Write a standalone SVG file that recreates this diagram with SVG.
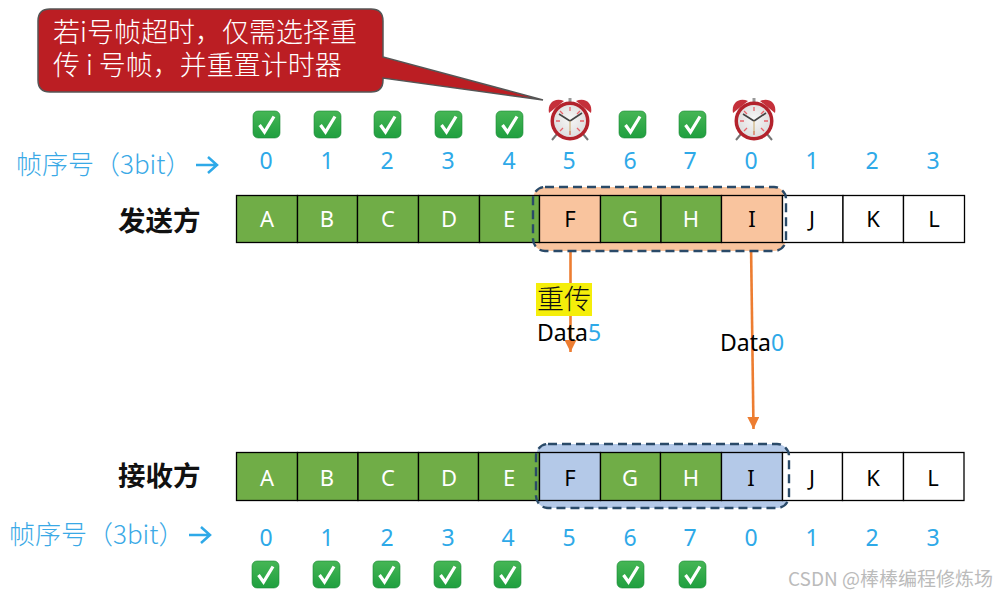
<svg xmlns="http://www.w3.org/2000/svg" width="995" height="597" viewBox="0 0 995 597">
<style>
text{font-family:"Noto Sans","Noto Sans CJK SC",sans-serif}
.cjk{font-family:"Noto Sans CJK SC",sans-serif}
.cell{stroke:#000;stroke-width:1.3}
.g{fill:#70ad47}.w{fill:#fff}.o{fill:#f9c49e}.b{fill:#b4c9e8}
.lt{font-size:22px;text-anchor:middle}
.lw{fill:#fff}.lk{fill:#000}
.n{font-size:23px;fill:#2ea9e8;text-anchor:middle}
.seq{font-size:26px;fill:#3aa9e6;font-weight:300}
.who{font-size:27.5px;font-weight:700;fill:#111}
.win{stroke:#2a4a68;stroke-width:2.4;stroke-dasharray:9 5}
.conn{stroke:#ed7d31;stroke-width:2.6;fill:none}
.data{font-size:23px;fill:#000}
.blue{fill:#2ea9e8}
.call{font-size:27px;fill:#fff;font-weight:300}
</style>
<defs>
<marker id="ah" markerUnits="userSpaceOnUse" markerWidth="12" markerHeight="12" refX="10" refY="5" orient="auto" viewBox="0 0 10 10"><path d="M0,0L10,5L0,10Z" fill="#ed7d31"/></marker>
<linearGradient id="gc" x1="0" y1="0" x2="0" y2="1"><stop offset="0" stop-color="#46b655"/><stop offset="1" stop-color="#1f9f3f"/></linearGradient>
<radialGradient id="face" cx=".5" cy=".45" r=".6"><stop offset="0" stop-color="#f6f6f6"/><stop offset="1" stop-color="#dcdcdc"/></radialGradient>
<g id="chk"><rect x="0" y="0" width="27" height="27" rx="5" fill="url(#gc)" stroke="#1c8a38" stroke-width=".6"/><path d="M6.500,14 L11.500,21 L21,5.500" fill="none" stroke="#fff" stroke-width="3.200"/></g>
<g id="clk">
<path d="M8,36 L3,42 M34,36 L39,42" stroke="#777" stroke-width="2"/>
<path d="M0,15 C-2,5 6,-1 15,3 Z" fill="#c5303a"/><path d="M42,15 C44,5 36,-1 27,3 Z" fill="#c5303a"/>
<rect x="19.500" y="0" width="3" height="5" fill="#999"/>
<circle cx="21" cy="23" r="19.500" fill="#b3222c"/><circle cx="21" cy="23" r="16" fill="url(#face)"/>
<path d="M21,9V13M21,33V37M7,23H11M31,23H35M11,13L14,16M31,13L28,16M11,33L14,30M31,33L28,30" stroke="#e8636a" stroke-width="1.300"/>
<path d="M21,23L10,16M21,23L33,15" stroke="#444" stroke-width="1.600"/><path d="M21,23V36" stroke="#c9a868" stroke-width="1"/>
</g>
</defs>

<g id="connectors">
<path class="conn" d="M570.500,243V352" marker-end="url(#ah)"/>
<path class="conn" d="M751,243L753.500,429" marker-end="url(#ah)"/>
</g>

<g id="callout">
<path d="M50,9H371Q383,9 383,21V57L543,100L383,78V80Q383,92 371,92H50Q38,92 38,80V21Q38,9 50,9Z" fill="#bb1e23" stroke="#555" stroke-width="1.500"/>
<text class="call cjk"><tspan x="53" y="42">若i号帧超时，仅需选择重</tspan><tspan x="53" y="75">传 i 号帧，并重置计时器</tspan></text>
</g>

<g id="checks-top">
<use href="#chk" x="253" y="111"/><use href="#chk" x="314" y="111"/><use href="#chk" x="374" y="111"/><use href="#chk" x="435" y="111"/><use href="#chk" x="496" y="111"/><use href="#chk" x="619" y="111"/><use href="#chk" x="679" y="111"/>
</g>
<g id="clock-5"><use href="#clk" x="549" y="98"/></g>
<g id="clock-0"><use href="#clk" x="733" y="98"/></g>

<g id="seq-top">
<text class="seq cjk" x="16" y="174">帧序号（3bit）</text>
<path d="M196,165H216M208,157L217,165L208,173" fill="none" stroke="#2ea9e8" stroke-width="2.500"/>
<text class="n" x="266" y="169">0</text><text class="n" x="327" y="169">1</text><text class="n" x="387" y="169">2</text><text class="n" x="448" y="169">3</text><text class="n" x="509" y="169">4</text><text class="n" x="569" y="169">5</text><text class="n" x="630" y="169">6</text><text class="n" x="690" y="169">7</text><text class="n" x="751" y="169">0</text><text class="n" x="812" y="169">1</text><text class="n" x="872" y="169">2</text><text class="n" x="933" y="169">3</text>
</g>

<g id="sender">
<text class="who cjk" x="118" y="231">发送方</text>
<rect x="533" y="187" width="253" height="64" rx="12" fill="#f9c49e"/>
<g class="cell">
<rect class="g" x="236.500" y="195.500" width="61" height="47"/><rect class="g" x="297.500" y="195.500" width="60" height="47"/><rect class="g" x="357.500" y="195.500" width="61" height="47"/><rect class="g" x="418.500" y="195.500" width="61" height="47"/><rect class="g" x="479.500" y="195.500" width="60" height="47"/>
<rect class="o" x="539.500" y="195.500" width="61" height="47"/><rect class="g" x="600.500" y="195.500" width="60.500" height="47"/><rect class="g" x="661" y="195.500" width="60.500" height="47"/><rect class="o" x="721.500" y="195.500" width="61" height="47"/>
<rect class="w" x="782.500" y="195.500" width="60.500" height="47"/><rect class="w" x="843" y="195.500" width="60.500" height="47"/><rect class="w" x="903.500" y="195.500" width="61" height="47"/>
</g>
<rect class="win" x="533" y="187" width="253" height="64" rx="12" fill="none"/>
<g class="lt">
<text class="lw" x="267" y="227">A</text><text class="lw" x="327" y="227">B</text><text class="lw" x="388" y="227">C</text><text class="lw" x="449" y="227">D</text><text class="lw" x="509" y="227">E</text><text class="lk" x="570" y="227">F</text><text class="lw" x="630" y="227">G</text><text class="lw" x="691" y="227">H</text><text class="lk" x="752" y="227">I</text><text class="lk" x="812" y="227">J</text><text class="lk" x="873" y="227">K</text><text class="lk" x="934" y="227">L</text>
</g>
</g>

<g id="receiver">
<text class="who cjk" x="118" y="486">接收方</text>
<rect x="536" y="444" width="253" height="64" rx="12" fill="#b4c9e8"/>
<g class="cell">
<rect class="g" x="236.500" y="452.500" width="61" height="48"/><rect class="g" x="297.500" y="452.500" width="60.500" height="48"/><rect class="g" x="358" y="452.500" width="60.500" height="48"/><rect class="g" x="418.500" y="452.500" width="60" height="48"/><rect class="g" x="478.500" y="452.500" width="61" height="48"/>
<rect class="b" x="539.500" y="452.500" width="61" height="48"/><rect class="g" x="600.500" y="452.500" width="60" height="48"/><rect class="g" x="660.500" y="452.500" width="61" height="48"/><rect class="b" x="721.500" y="452.500" width="61" height="48"/>
<rect class="w" x="782.500" y="452.500" width="60" height="48"/><rect class="w" x="842.500" y="452.500" width="61" height="48"/><rect class="w" x="903.500" y="452.500" width="60.500" height="48"/>
</g>
<rect class="win" x="536" y="444" width="253" height="64" rx="12" fill="none"/>
<g class="lt">
<text class="lw" x="267" y="486">A</text><text class="lw" x="327" y="486">B</text><text class="lw" x="388" y="486">C</text><text class="lw" x="449" y="486">D</text><text class="lw" x="509" y="486">E</text><text class="lk" x="570" y="486">F</text><text class="lw" x="630" y="486">G</text><text class="lw" x="691" y="486">H</text><text class="lk" x="751" y="486">I</text><text class="lk" x="812" y="486">J</text><text class="lk" x="873" y="486">K</text><text class="lk" x="933" y="486">L</text>
</g>
</g>

<g id="retransmit">
<rect x="536" y="283" width="56" height="33" fill="#f5ee0a"/>
<text class="cjk" x="537" y="309" font-size="27" font-weight="300" fill="#111">重传</text>
<text class="data" x="537" y="341">Data<tspan class="blue">5</tspan></text>
</g>
<g id="data0"><text class="data" x="720" y="351">Data<tspan class="blue">0</tspan></text></g>

<g id="seq-bottom">
<text class="seq cjk" x="9" y="544">帧序号（3bit）</text>
<path d="M189,535H209M201,527L210,535L201,543" fill="none" stroke="#2ea9e8" stroke-width="2.500"/>
<text class="n" x="266" y="546">0</text><text class="n" x="327" y="546">1</text><text class="n" x="387" y="546">2</text><text class="n" x="448" y="546">3</text><text class="n" x="508" y="546">4</text><text class="n" x="569" y="546">5</text><text class="n" x="630" y="546">6</text><text class="n" x="690" y="546">7</text><text class="n" x="751" y="546">0</text><text class="n" x="812" y="546">1</text><text class="n" x="872" y="546">2</text><text class="n" x="933" y="546">3</text>
</g>
<g id="checks-bottom">
<use href="#chk" x="252" y="561"/><use href="#chk" x="313" y="561"/><use href="#chk" x="373" y="561"/><use href="#chk" x="434" y="561"/><use href="#chk" x="494" y="561"/><use href="#chk" x="617" y="561"/><use href="#chk" x="679" y="561"/>
</g>
<text id="watermark" x="788" y="586" font-size="19" fill="#bbb" class="cjk">CSDN @棒棒编程修炼场</text>
</svg>
